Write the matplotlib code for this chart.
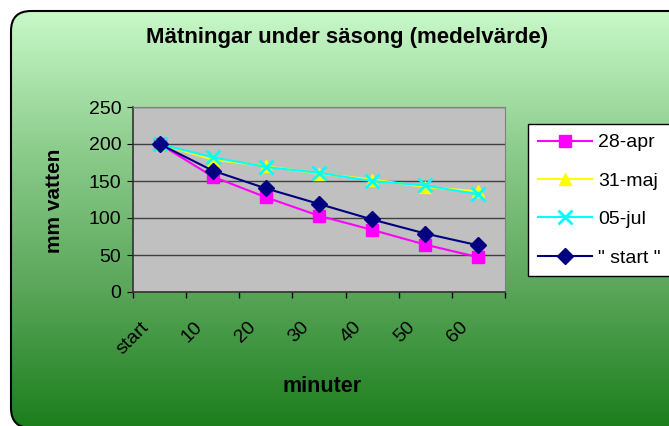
import numpy as np
import matplotlib
matplotlib.use('Agg')
import matplotlib.pyplot as plt
import matplotlib.transforms as mtransforms
from matplotlib.patches import FancyBboxPatch
from matplotlib.colors import LinearSegmentedColormap

plt.rcParams['font.family'] = ['Liberation Sans', 'DejaVu Sans']

# data
categories = ['start', '10', '20', '30', '40', '50', '60']
apr28 = [200, 156, 128, 103, 84, 64, 47]
maj31 = [200, 179, 170, 160, 152, 142, 136]
jul05 = [200, 182, 169, 161, 150, 144, 132]
start = [200, 164, 140, 119, 98, 79, 63]
series_names = ['28-apr', '31-maj', '05-jul', '" start "']

W, H = 669, 426
fig = plt.figure(figsize=(W / 100, H / 100), dpi=100)

# background: gradient inside a rounded box (pixel coords, y up)
bg = fig.add_axes([0, 0, 1, 1])
bg.set_xlim(0, W)
bg.set_ylim(0, H)
bg.axis('off')
cmap = LinearSegmentedColormap.from_list('g', ['#c8f8c8', '#8ccc8c', '#5aa65a', '#1c7e1c'])
grad = np.linspace(0, 1, 256).reshape(-1, 1)
im = bg.imshow(grad, cmap=cmap, aspect='auto', extent=(11, W + 30, -2, H - 11),
               origin='upper', zorder=0)
box = FancyBboxPatch((11, -2), W + 20, H - 11 + 2, boxstyle='round,pad=0,rounding_size=20',
                     fc='none', ec='black', lw=1.5, zorder=1)
bg.add_patch(box)
im.set_clip_path(box)

# plot area
ax = fig.add_axes([133 / W, (H - 292) / H, 372 / W, 185 / H])
ax.set_facecolor('#c0c0c0')
x = np.arange(len(categories))
ax.plot(x, apr28, color='#ff00ff', lw=1.5, marker='s', ms=9, mec='#ff00ff', label=series_names[0])
ax.plot(x, maj31, color='#ffff00', lw=1.5, marker='^', ms=9, mec='#ffff00', label=series_names[1])
ax.plot(x, jul05, color='#00ffff', lw=1.5, marker='x', ms=10, mew=2, label=series_names[2])
ax.plot(x, start, color='#000080', lw=1.5, marker='D', ms=8, mec='#000080', label=series_names[3])

ax.set_xlim(-0.5, len(categories) - 0.5)
ax.set_ylim(0, 250)
ax.set_yticks(range(0, 251, 50))
ax.yaxis.grid(True, color='#404040', lw=1)
ax.set_axisbelow(True)
ax.set_xticks(np.arange(-0.5, len(categories), 1))
ax.set_xticklabels([])
ax.set_xticks(x, minor=True)
ax.set_xticklabels(categories, minor=True, rotation=45, ha='right', va='top',
                   rotation_mode='anchor', fontsize=14)
ax.tick_params(axis='x', which='minor', length=0, pad=19)
ax.tick_params(axis='x', which='major', length=4.5, direction='out', width=1)
ax.tick_params(axis='y', length=4.5, direction='out', labelsize=14, pad=4)
shift = mtransforms.ScaledTranslation(-19 / 100, 0, fig.dpi_scale_trans)
for lab in ax.get_xticklabels(minor=True):
    lab.set_transform(lab.get_transform() + shift)
for s in ['left', 'bottom']:
    ax.spines[s].set_color('#333333')
    ax.spines[s].set_linewidth(1.2)
for s in ['top', 'right']:
    ax.spines[s].set_color('#808080')

fig.text(347 / W, 1 - 37 / H, 'Mätningar under säsong (medelvärde)', ha='center', va='center',
         fontsize=16, fontweight='bold')
fig.text(54 / W, 1 - 201 / H, 'mm vatten', ha='center', va='center', rotation=90,
         fontsize=15, fontweight='bold')
fig.text(322 / W, 1 - 387 / H, 'minuter', ha='center', va='center',
         fontsize=15.5, fontweight='bold')

leg = ax.legend(loc='upper left', bbox_to_anchor=(528 / W, 1 - 124 / H),
                bbox_transform=fig.transFigure, frameon=True, fancybox=False,
                fontsize=14, handlelength=2.8, labelspacing=1.07, borderpad=0.5,
                handletextpad=0.3, borderaxespad=0)
leg.get_frame().set_edgecolor('black')
leg.get_frame().set_linewidth(1)
leg.get_frame().set_facecolor('white')
leg.get_frame().set_alpha(1)

fig.savefig('out.png', dpi=100)
